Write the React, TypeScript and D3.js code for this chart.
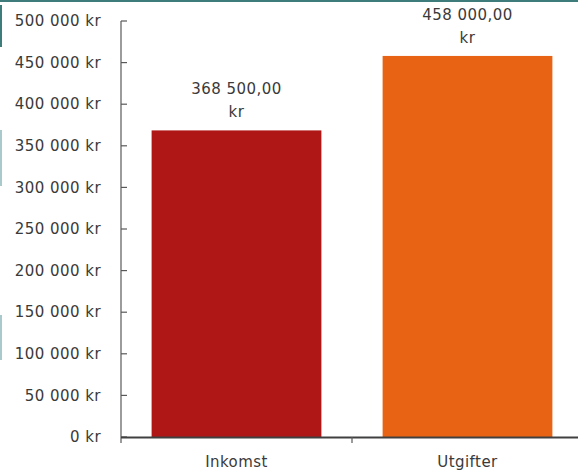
import React from "react";
import * as d3 from "d3";

const categories = ["Inkomst", "Utgifter"];
const values = [368500, 458000];
const barColors = ["#AF1616", "#E96314"];
const yTicks = [0, 50000, 100000, 150000, 200000, 250000, 300000, 350000, 400000, 450000, 500000];
const valueLabels = [["368 500,00", "kr"], ["458 000,00", "kr"]];

const W = 578;
const H = 471;
const FONT = "'DejaVu Sans', sans-serif";
const TEXT = "#3a3a3a";
const AXIS = "#595959";
const LS = 0.45;

const fmtTick = (v: number) => d3.format(",")(v).replace(/,/g, " ") + " kr";

export default function App() {
  const x = d3.scaleBand().domain(categories).range([121, 583]).paddingInner(0.265).paddingOuter(0.1325);
  const band = d3.scaleBand().domain(categories).range([121, 583]);
  const y = d3.scaleLinear().domain([0, 500000]).range([437, 21]);

  return (
    <svg width={W} height={H} style={{ position: "fixed", left: 0, top: 0, background: "#fff" }} fontFamily={FONT}>
      {/* screenshot edge decorations */}
      <rect x={0} y={0} width={W} height={2} fill="#3E7B7B" />
      <rect x={0} y={5} width={2} height={42} fill="#3E7B7B" />
      <rect x={0} y={130} width={2} height={56} fill="#A9C9CC" />
      <rect x={0} y={315} width={2} height={45} fill="#A9C9CC" />

      {/* bars */}
      {categories.map((c, i) => (
        <rect key={c} x={x(c)} y={y(values[i])} width={x.bandwidth()} height={y(0) - y(values[i])} fill={barColors[i]} />
      ))}

      {/* value labels */}
      {categories.map((c, i) => (
        <text key={c} x={x(c)! + x.bandwidth() / 2} textAnchor="middle" fontSize={15} fill={TEXT} letterSpacing={LS}>
          <tspan x={x(c)! + x.bandwidth() / 2} y={y(values[i]) - 36}>{valueLabels[i][0]}</tspan>
          <tspan x={x(c)! + x.bandwidth() / 2} y={y(values[i]) - 13}>{valueLabels[i][1]}</tspan>
        </text>
      ))}

      {/* y axis */}
      <line x1={121} x2={121} y1={y(500000)} y2={y(0) + 6} stroke={AXIS} strokeWidth={1.2} />
      {yTicks.map((t) => (
        <g key={t}>
          <line x1={121} x2={127} y1={y(t)} y2={y(t)} stroke={AXIS} strokeWidth={1.2} />
          <text x={101} y={y(t)} dy="0.35em" textAnchor="end" fontSize={15} fill={TEXT} letterSpacing={LS}>{fmtTick(t)}</text>
        </g>
      ))}

      {/* x axis */}
      <line x1={121} x2={W} y1={y(0) + 0.5} y2={y(0) + 0.5} stroke="#404040" strokeWidth={2} />
      {categories.slice(1).map((c) => (
        <line key={c} x1={band(c)} x2={band(c)} y1={y(0)} y2={y(0) + 6} stroke={AXIS} strokeWidth={1.2} />
      ))}
      {categories.map((c) => (
        <text key={c} x={band(c)! + band.bandwidth() / 2} y={467} textAnchor="middle" fontSize={15} fill={TEXT} letterSpacing={LS}>{c}</text>
      ))}
    </svg>
  );
}
